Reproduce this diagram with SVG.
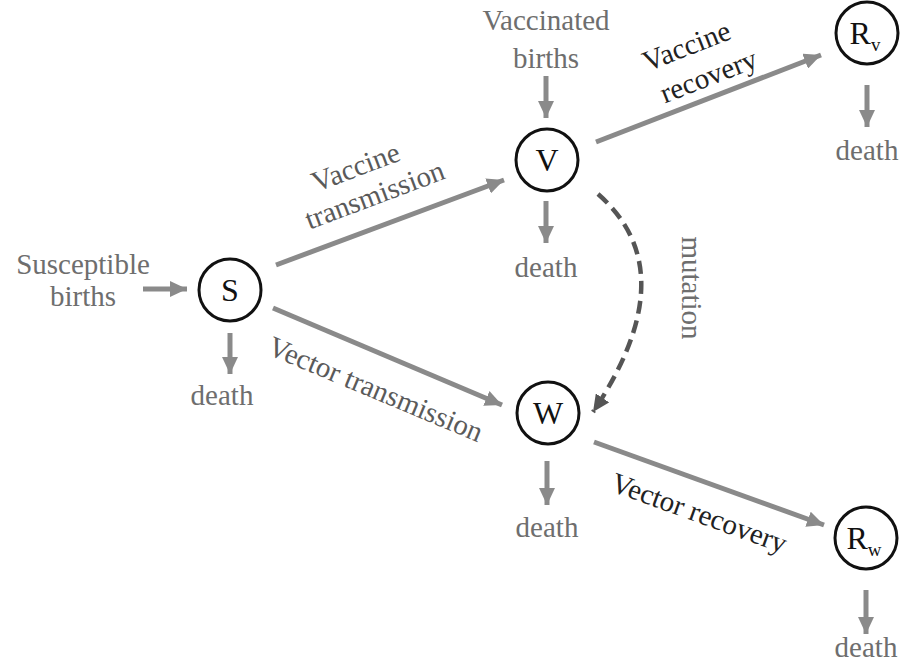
<svg xmlns="http://www.w3.org/2000/svg" width="912" height="663" viewBox="0 0 912 663" font-family="'Liberation Serif','DejaVu Serif',serif">
<style>
text{font-family:"Liberation Serif","DejaVu Serif",serif;}
.lbl{font-size:29px;fill:#6e6e6e;text-anchor:middle;}
.tr{font-size:29px;fill:#5a5a5a;text-anchor:middle;}
.rc{font-size:29px;fill:#222;text-anchor:middle;}
.node circle{fill:#fff;stroke:#111;stroke-width:3;}
.node text{font-size:32px;fill:#111;text-anchor:middle;}
.flow{stroke:#8a8a8a;stroke-width:5;fill:none;marker-end:url(#ah);}
.mut{stroke:#555;stroke-width:4.5;fill:none;stroke-dasharray:13 7;marker-end:url(#ahd);}
</style>
<defs>
<marker id="ah" markerUnits="userSpaceOnUse" markerWidth="18" markerHeight="16" refX="17" refY="8" orient="auto"><path d="M0,0 L17,8 L0,16 z" fill="#8a8a8a"/></marker>
<marker id="ahd" markerUnits="userSpaceOnUse" markerWidth="18" markerHeight="16" refX="17" refY="8" orient="auto"><path d="M0,0 L17,8 L0,16 z" fill="#555"/></marker>
</defs>
<rect width="912" height="663" fill="#fff"/>
<g id="connectors">
<path class="flow" d="M143 289 L187 289"/>
<path class="flow" d="M230 333 L230 374"/>
<path class="flow" d="M276 265 L504 180"/>
<path class="flow" d="M273 308 L502 405"/>
<path class="flow" d="M546 76 L546 118"/>
<path class="flow" d="M546 201 L546 243"/>
<path class="flow" d="M596 142 L821 55"/>
<path class="flow" d="M867 85 L867 127"/>
<path class="flow" d="M547 461 L547 505"/>
<path class="flow" d="M594 442 L824 525"/>
<path class="flow" d="M866 590 L866 634"/>
<path class="mut" d="M598 194 Q 687 272 593 412"/>
</g>
<g id="labels">
<text class="lbl" x="83" y="274">Susceptible</text>
<text class="lbl" x="83" y="306">births</text>
<text class="lbl" x="222" y="405">death</text>
<text class="lbl" x="546" y="30">Vaccinated</text>
<text class="lbl" x="546" y="68">births</text>
<text class="lbl" x="546" y="277">death</text>
<text class="lbl" x="867" y="160">death</text>
<text class="lbl" x="547" y="537">death</text>
<text class="lbl" x="866" y="657">death</text>
<text class="tr" transform="translate(359,176) rotate(-20.6)">Vaccine</text>
<text class="tr" transform="translate(378,204) rotate(-20.6)">transmission</text>
<text class="tr" transform="translate(372,398) rotate(22.7)">Vector transmission</text>
<text class="rc" transform="translate(690,55) rotate(-21.4)">Vaccine</text>
<text class="rc" transform="translate(712,85) rotate(-21.4)">recovery</text>
<text class="rc" transform="translate(696,522) rotate(20)">Vector recovery</text>
<text class="lbl" transform="translate(682,288) rotate(90)">mutation</text>
</g>
<g id="S" class="node"><circle cx="230" cy="290" r="31"/><text x="230" y="301">S</text></g>
<g id="V" class="node"><circle cx="547" cy="160" r="31"/><text x="547" y="171">V</text></g>
<g id="W" class="node"><circle cx="548" cy="413" r="31"/><text x="548" y="424">W</text></g>
<g id="Rv" class="node"><circle cx="867" cy="33" r="31"/><text x="865" y="44"><tspan>R</tspan><tspan font-size="19" dy="7">v</tspan></text></g>
<g id="Rw" class="node"><circle cx="866" cy="538" r="31"/><text x="864" y="549"><tspan>R</tspan><tspan font-size="19" dy="7">w</tspan></text></g>
</svg>
